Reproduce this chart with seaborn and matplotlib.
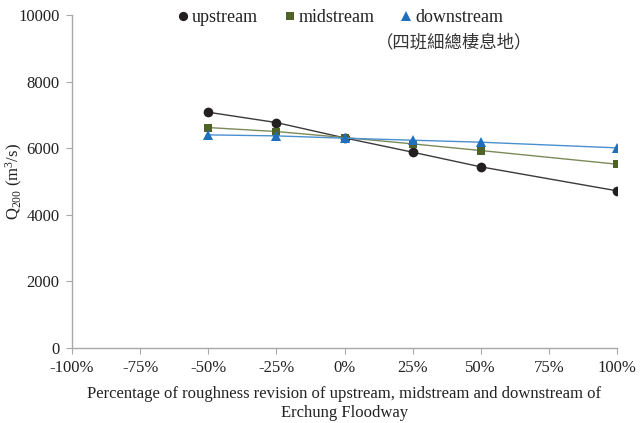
import matplotlib
matplotlib.use("Agg")
import matplotlib.pyplot as plt
import seaborn as sns
import pandas as pd

# Roughness revision (%) and resulting 200-year discharge (m3/s)
revision = [-50, -25, 0, 25, 50, 100]
upstream = [7080, 6770, 6310, 5880, 5440, 4720]
midstream = [6620, 6500, 6320, 6130, 5930, 5520]
downstream = [6400, 6370, 6300, 6240, 6180, 6010]
x_ticks = [-100, -75, -50, -25, 0, 25, 50, 75, 100]
y_ticks = [0, 2000, 4000, 6000, 8000, 10000]

series_names = ["upstream", "midstream", "downstream"]
series_values = [upstream, midstream, downstream]

df = pd.concat(
    [pd.DataFrame({"revision": revision, "Q": v, "series": n})
     for n, v in zip(series_names, series_values)],
    ignore_index=True,
)

sns.set_theme(style="white")
plt.rcParams["font.family"] = ["Liberation Serif", "Noto Sans CJK TC"]
plt.rcParams["mathtext.fontset"] = "custom"
plt.rcParams["mathtext.rm"] = "Liberation Serif"
plt.rcParams["mathtext.it"] = "Liberation Serif:italic"

marker_colors = {"upstream": "#231f20", "midstream": "#4f6228", "downstream": "#1f6fbf"}
line_colors = {"upstream": "#3a3a3a", "midstream": "#7c8a5a", "downstream": "#4a90d0"}
markers = {"upstream": "o", "midstream": "s", "downstream": "^"}
sizes = {"upstream": 7, "midstream": 6, "downstream": 7}

fig = plt.figure(figsize=(6.4, 4.23), dpi=100)
ax = fig.add_axes([72 / 640, 1 - 348 / 423, (617 - 72) / 640, (348 - 15) / 423])

for name in series_names:
    sub = df[df["series"] == name]
    sns.lineplot(data=sub, x="revision", y="Q", ax=ax, color=line_colors[name],
                 linewidth=1.0, legend=False)
    ax.plot(sub["revision"], sub["Q"], linestyle="none", marker=markers[name],
            markersize=sizes[name], color=marker_colors[name], label=name,
            markeredgewidth=0)

ax.set_xlim(-100, 100)
ax.set_ylim(0, 10000)
ax.set_xticks(x_ticks)
ax.set_xticklabels([f"{t}%" for t in x_ticks])
ax.set_yticks(y_ticks)
ax.tick_params(axis="both", labelsize=12, colors="#222222", length=4,
               width=0.8, color="#a8a8a8", direction="out", bottom=True, left=True,
               pad=5)
for side in ["top", "right"]:
    ax.spines[side].set_visible(False)
for side in ["left", "bottom"]:
    ax.spines[side].set_color("#a8a8a8")
    ax.spines[side].set_linewidth(1.0)

ax.set_xlabel("Percentage of roughness revision of upstream, midstream and downstream of\nErchung Floodway",
              fontsize=12, color="#222222", labelpad=7, linespacing=1.2)
ax.set_ylabel(r"Q$_{\mathrm{200}}$ (m$^{\mathrm{3}}$/s)", fontsize=12, color="#222222")
ax.yaxis.label.set_va("center")
ax.yaxis.set_label_coords((14 - 72) / 545, 0.5)

leg = ax.legend(loc="upper center", bbox_to_anchor=(0.49, 1.05), ncol=3,
                frameon=False, fontsize=13, handletextpad=0.05, columnspacing=1.3,
                handlelength=0.9, markerscale=0.95, borderaxespad=0.2)
for t in leg.get_texts():
    t.set_color("#222222")

fig.text(454 / 640, 1 - 42 / 423, "（四班細總棲息地）", fontsize=12.5,
         color="#333333", va="center", ha="center",
         family=["Noto Sans CJK TC", "Liberation Serif"])

fig.savefig("out.png", dpi=100)
